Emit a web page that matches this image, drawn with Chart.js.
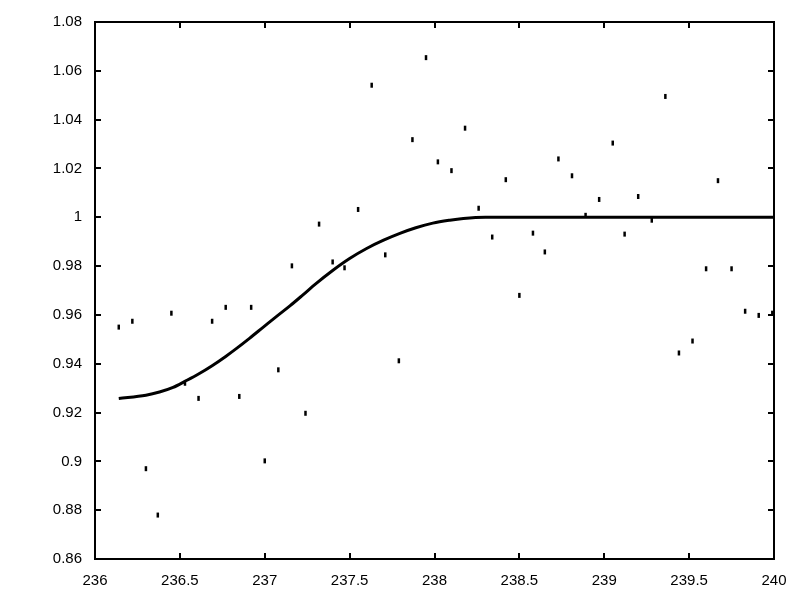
<!DOCTYPE html>
<html>
<head>
<meta charset="utf-8">
<script src="https://cdn.jsdelivr.net/npm/chart.js@4/dist/chart.umd.min.js"></script>
<style>
  html, body { margin: 0; padding: 0; background: #fff; }
  #wrap { width: 800px; height: 600px; }
</style>
</head>
<body>
<div id="wrap"><canvas id="c" width="800" height="600"></canvas></div>
<script>
// Observed data points
const dataX = [236.14, 236.22, 236.30, 236.37, 236.45, 236.53, 236.61, 236.69, 236.77, 236.85,
               236.92, 237.00, 237.08, 237.16, 237.24, 237.32, 237.40, 237.47, 237.55, 237.63,
               237.71, 237.79, 237.87, 237.95, 238.02, 238.10, 238.18, 238.26, 238.34, 238.42,
               238.50, 238.58, 238.65, 238.73, 238.81, 238.89, 238.97, 239.05, 239.12, 239.20,
               239.28, 239.36, 239.44, 239.52, 239.60, 239.67, 239.75, 239.83, 239.91, 239.99];
const dataY = [0.9550, 0.9574, 0.8970, 0.8780, 0.9607, 0.9320, 0.9258, 0.9574, 0.9631, 0.9266,
               0.9631, 0.9002, 0.9375, 0.9801, 0.9197, 0.9972, 0.9817, 0.9793, 1.0032, 1.0541,
               0.9846, 0.9412, 1.0318, 1.0654, 1.0227, 1.0191, 1.0365, 1.0037, 0.9919, 1.0154,
               0.9680, 0.9935, 0.9858, 1.0239, 1.0170, 1.0008, 1.0073, 1.0304, 0.9931, 1.0085,
               0.9988, 1.0495, 0.9444, 0.9493, 0.9789, 1.0150, 0.9789, 0.9615, 0.9598, 0.9607];
// Fitted curve
const curveX = [236.14, 236.30, 236.38, 236.46, 236.53, 236.61, 236.69, 236.77, 236.84, 236.91,
                236.99, 237.07, 237.15, 237.22, 237.30, 237.40, 237.50, 237.60, 237.70, 237.80,
                237.89, 237.99, 238.09, 238.17, 238.30, 238.60, 239.00, 239.50, 240.00];
const curveY = [0.9258, 0.9271, 0.9284, 0.9303, 0.9328, 0.9358, 0.9392, 0.9430, 0.9466, 0.9504,
                0.9549, 0.9594, 0.9638, 0.9679, 0.9727, 0.9782, 0.9831, 0.9872, 0.9906, 0.9935,
                0.9957, 0.9976, 0.9988, 0.9995, 1.0000, 1.0000, 1.0000, 1.0000, 1.0000];
// Axis ranges / ticks
const xMin = 236, xMax = 240, xStep = 0.5;
const yMin = 0.86, yMax = 1.08, yStep = 0.02;

const pts = dataX.map((x, i) => ({ x: x, y: dataY[i] }));
const curve = curveX.map((x, i) => ({ x: x, y: curveY[i] }));

const FONT = { family: "'Liberation Sans', Arial, sans-serif", size: 15 };
const fmt = v => String(Number(Number(v).toFixed(3)));

const frameTicks = {
  id: 'frameTicks',
  afterDatasetsDraw(chart) {
    const ctx = chart.ctx, a = chart.chartArea;
    const xs = chart.scales.x, ys = chart.scales.y;
    const L = 6;
    ctx.save();
    ctx.strokeStyle = '#000';
    ctx.lineWidth = 2;
    ctx.beginPath();
    xs.ticks.forEach(t => {
      const px = Math.round(xs.getPixelForValue(t.value));
      ctx.moveTo(px, a.bottom); ctx.lineTo(px, a.bottom - L);
      ctx.moveTo(px, a.top); ctx.lineTo(px, a.top + L);
    });
    ys.ticks.forEach(t => {
      const py = Math.round(ys.getPixelForValue(t.value));
      ctx.moveTo(a.left, py); ctx.lineTo(a.left + L, py);
      ctx.moveTo(a.right, py); ctx.lineTo(a.right - L, py);
    });
    ctx.stroke();
    ctx.strokeRect(a.left, a.top, a.right - a.left, a.bottom - a.top);
    ctx.restore();
  }
};

new Chart(document.getElementById('c'), {
  type: 'scatter',
  data: {
    datasets: [
      {
        label: 'fit',
        data: curve,
        showLine: true,
        borderColor: '#000',
        borderWidth: 3,
        pointRadius: 0,
        cubicInterpolationMode: 'monotone',
        fill: false,
        order: 2
      },
      {
        label: 'data',
        data: pts,
        pointStyle: 'line',
        rotation: 90,
        pointRadius: 2.5,
        pointBorderWidth: 2.5,
        pointBorderColor: '#000',
        pointBackgroundColor: '#000',
        borderColor: '#000',
        backgroundColor: '#000',
        showLine: false,
        order: 1,
        clip: false
      }
    ]
  },
  options: {
    responsive: false,
    animation: false,
    devicePixelRatio: 1,
    layout: { padding: { left: 0, top: 18, right: 26, bottom: 0 } },
    plugins: { legend: { display: false }, tooltip: { enabled: false } },
    scales: {
      x: {
        type: 'linear', min: xMin, max: xMax,
        grid: { display: false, drawTicks: false },
        border: { display: false },
        ticks: { stepSize: xStep, color: '#000', font: FONT, padding: 13, callback: fmt, maxRotation: 0 },
        afterFit: s => { s.height = 41; }
      },
      y: {
        type: 'linear', min: yMin, max: yMax,
        grid: { display: false, drawTicks: false },
        border: { display: false },
        ticks: { stepSize: yStep, color: '#000', font: FONT, padding: 13, callback: fmt },
        afterFit: s => { s.width = 95; }
      }
    }
  },
  plugins: [frameTicks]
});
</script>
</body>
</html>
